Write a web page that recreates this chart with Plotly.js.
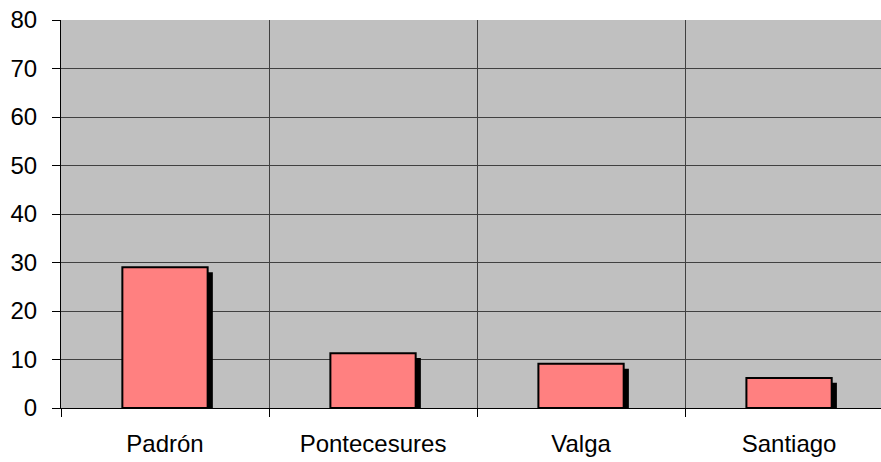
<!DOCTYPE html>
<html>
<head>
<meta charset="utf-8">
<script src="https://cdn.plot.ly/plotly-3.0.1.min.js"></script>
<style>html,body{margin:0;padding:0;background:#fff;}#chart{width:881px;height:462px;}</style>
</head>
<body>
<div id="chart"></div>
<script>
const categories = ["Padrón", "Pontecesures", "Valga", "Santiago"];
const values = [29, 11.3, 9.1, 6.2];
const yTicks = [0, 10, 20, 30, 40, 50, 60, 70, 80];

const barWidth = 0.41;
const shadowDrop = 1.0;

const shadow = {
  type: "bar",
  x: categories,
  y: values.map(v => v - shadowDrop),
  width: barWidth,
  offset: -barWidth / 2 + 0.025,
  marker: { color: "#000000", line: { width: 0 } },
  hoverinfo: "skip",
  showlegend: false
};
const bars = {
  type: "bar",
  x: categories,
  y: values,
  width: barWidth,
  offset: -barWidth / 2,
  marker: { color: "#FF8080", line: { color: "#000000", width: 2 } },
  showlegend: false
};

const layout = {
  width: 881, height: 462,
  margin: { l: 61, r: 0, t: 20, b: 54 },
  paper_bgcolor: "#ffffff",
  plot_bgcolor: "#C0C0C0",
  barmode: "overlay",
  font: { family: "Liberation Sans, Arial, sans-serif", size: 24, color: "#000" },
  xaxis: {
    type: "category",
    range: [-0.5, 3.442],
    tickson: "boundaries",
    ticks: "outside", ticklen: 8, tickcolor: "#000", tickwidth: 1,
    showgrid: true, gridcolor: "#404040", gridwidth: 1,
    showline: true, linecolor: "#000", linewidth: 1,
    tickfont: { size: 24 },
    ticklabelstandoff: 14,
    fixedrange: true
  },
  yaxis: {
    range: [0, 80],
    tickvals: yTicks,
    ticktext: yTicks.map(String),
    ticks: "outside", ticklen: 8, tickcolor: "#000", tickwidth: 1,
    showgrid: true, gridcolor: "#404040", gridwidth: 1,
    showline: true, linecolor: "#000", linewidth: 1,
    zeroline: false,
    tickfont: { size: 24 },
    ticklabelstandoff: 10,
    fixedrange: true
  }
};

Plotly.newPlot("chart", [shadow, bars], layout, { displayModeBar: false, staticPlot: true });
</script>
</body>
</html>
